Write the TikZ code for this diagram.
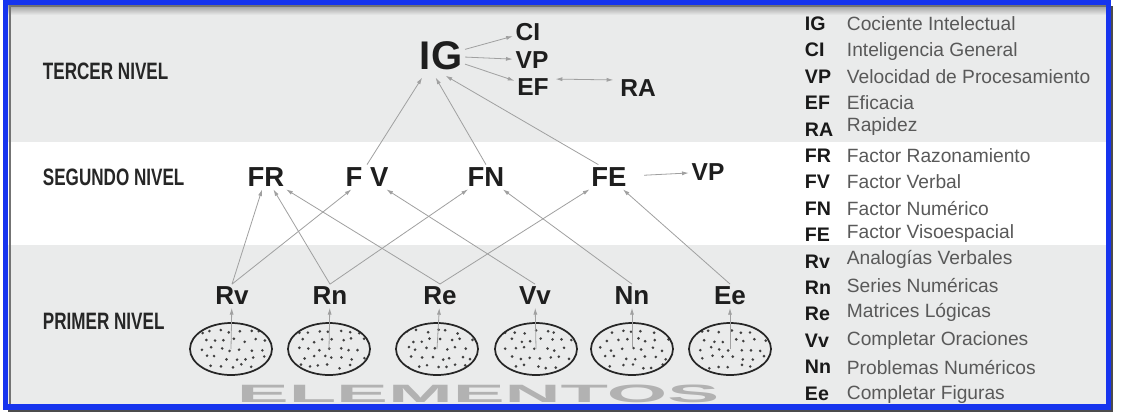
\documentclass[tikz,border=0pt]{standalone}
\usepackage{fontspec}
\setmainfont{Liberation Sans}
\newfontfamily\levelfont[FakeStretch=0.72]{Liberation Sans}
\newfontfamily\widefont[FakeStretch=3.1]{Liberation Sans}
\usetikzlibrary{calc}
\usetikzlibrary{arrows.meta,shapes.geometric}

\definecolor{bandgray}{RGB}{234,235,235}
\definecolor{frameblue}{RGB}{22,52,238}
\definecolor{labelink}{RGB}{30,30,30}
\definecolor{edgegray}{RGB}{160,160,160}

\begin{document}
\begin{tikzpicture}[x=0.75pt,y=-0.75pt,
   every node/.style={inner sep=2pt},
   lvl/.style={anchor=west,font=\levelfont\bfseries\fontsize{17.8}{19}\selectfont,text=black!85},
   big/.style={font=\bfseries\fontsize{30}{32}\selectfont,text=labelink},
   sub/.style={font=\bfseries\fontsize{18.4}{20}\selectfont,text=labelink},
   fac/.style={font=\bfseries\fontsize{20.6}{22}\selectfont,text=labelink},
   elem/.style={font=\bfseries\fontsize{19.5}{21}\selectfont,text=labelink},
   abbr/.style={anchor=base west,font=\bfseries\fontsize{14.7}{16}\selectfont,text=black!90},
   desc/.style={anchor=base west,font=\fontsize{14.4}{16}\selectfont,text=black!65},
   arr/.style={draw=edgegray,line width=0.6pt,>={Latex[length=5pt,width=3pt]},->},
   pool/.style={ellipse,draw=black!85,line width=1.3pt,minimum width=61.5pt,minimum height=39pt,
     path picture={\foreach \i in {-3,...,3} \foreach \j in {-2,...,2}
       \fill[black!75] ($(path picture bounding box.center)+({\i*7.5pt+isodd(\j)*3.2pt+rand*1.8pt},{\j*6.5pt+rand*1.5pt})$) circle (1.1pt);}}]
\useasboundingbox (0,0) rectangle (1122,419);
\pgfmathsetseed{7}
% bands
\fill[white] (0,0) rectangle (1122,419);
\fill[bandgray] (8,5) rectangle (1108,142);
\fill[bandgray] (8,245) rectangle (1108,405);
\shade[top color=black!40,bottom color=bandgray] (8,5) rectangle (1108,15);
\draw[black!55,line width=1.5pt] (9.5,405) -- (9.5,6) -- (1107,6);
\node[font=\widefont\bfseries\fontsize{18.8}{20}\selectfont,text=black!30] (word) at (478,394) {ELEMENTOS};
% levels
\node[lvl] (tercer) at (40,71) {TERCER NIVEL};
\node[lvl] (segundo) at (40,177) {SEGUNDO NIVEL};
\node[lvl] (primer) at (40,321) {PRIMER NIVEL};
% third level
\node[big] (IG) at (441,56) {IG};
\node[sub] (CI) at (528,32) {CI};
\node[sub] (VP) at (532,60) {VP};
\node[sub] (EF) at (533,87) {EF};
\node[sub] (RA) at (638,88) {RA};
% second level
\node[fac] (FR) at (266,177) {FR};
\node[fac] (FV) at (367,177) {F V};
\node[fac] (FN) at (486,177) {FN};
\node[fac] (FE) at (609,177) {FE};
\node[sub] (VPb) at (708,172) {VP};
% first level
\node[elem] (Rv) at (232,296) {Rv};
\node[elem] (Rn) at (330,296) {Rn};
\node[elem] (Re) at (440,296) {Re};
\node[elem] (Vv) at (535,296) {Vv};
\node[elem] (Nn) at (632,296) {Nn};
\node[elem] (Ee) at (730,296) {Ee};
\node[pool] (eRv) at (231,349) {};
\node[pool] (eRn) at (329,349) {};
\node[pool] (eRe) at (437,349) {};
\node[pool] (eVv) at (536,349) {};
\node[pool] (eNn) at (632,349) {};
\node[pool] (eEe) at (730,349) {};
% connectors
\draw[arr] (IG) -- (CI);
\draw[arr] (IG) -- (VP);
\draw[arr] (IG) -- (EF);
\draw[arr,<->,shorten <=3pt,shorten >=3pt] ([yshift=6pt]EF.east) -- ([yshift=6pt]RA.west);
\draw[arr,shorten >=4pt] (FV.north) -- ([xshift=-12pt]IG.south);
\draw[arr,shorten >=4pt] (FN.north) -- ([xshift=-6pt]IG.south);
\draw[arr,shorten >=4pt] ([xshift=-8pt]FE.north) -- (IG.south);
\draw[arr,shorten <=11pt] (FE) -- (VPb);
\draw[arr] (Rv.north) -- (FR);
\draw[arr] (Rv.north) -- (FV);
\draw[arr] (Rn.north) -- (FR);
\draw[arr] (Rn.north) -- (FN);
\draw[arr] (Re.north) -- (FR);
\draw[arr] (Re.north) -- (FE);
\draw[arr] (Vv.north) -- (FV);
\draw[arr] (Nn.north) -- (FN);
\draw[arr] (Ee.north) -- (FE);
\draw[arr] (eRv.center) -- (Rv);
\draw[arr] (eRn.center) -- (Rn);
\draw[arr] (eRe.center) -- (Re);
\draw[arr] (eVv.center) -- (Vv);
\draw[arr] (eNn.center) -- (Nn);
\draw[arr] (eEe.center) -- (Ee);
% legend
\node[abbr] (kIG) at (802,30) {IG};  \node[desc] (dIG) at (844,30) {Cociente Intelectual};
\node[abbr] (kCI) at (802,56) {CI};  \node[desc] (dCI) at (844,56) {Inteligencia General};
\node[abbr] (kVP) at (802,83) {VP};  \node[desc] (dVP) at (844,83) {Velocidad de Procesamiento};
\node[abbr] (kEF) at (802,109) {EF}; \node[desc] (dEF) at (844,109) {Eficacia};
\node[abbr] (kRA) at (802,136) {RA}; \node[desc] (dRA) at (844,131) {Rapidez};
\node[abbr] (kFR) at (802,162) {FR}; \node[desc] (dFR) at (844,162) {Factor Razonamiento};
\node[abbr] (kFV) at (802,188) {FV}; \node[desc] (dFV) at (844,188) {Factor Verbal};
\node[abbr] (kFN) at (802,215) {FN}; \node[desc] (dFN) at (844,215) {Factor Numérico};
\node[abbr] (kFE) at (802,241) {FE}; \node[desc] (dFE) at (844,238) {Factor Visoespacial};
\node[abbr] (kRv) at (802,268) {Rv}; \node[desc] (dRv) at (844,264) {Analogías Verbales};
\node[abbr] (kRn) at (802,294) {Rn}; \node[desc] (dRn) at (844,292) {Series Numéricas};
\node[abbr] (kRe) at (802,320) {Re}; \node[desc] (dRe) at (844,317) {Matrices Lógicas};
\node[abbr] (kVv) at (802,347) {Vv}; \node[desc] (dVv) at (844,345) {Completar Oraciones};
\node[abbr] (kNn) at (802,373) {Nn}; \node[desc] (dNn) at (844,374) {Problemas Numéricos};
\node[abbr] (kEe) at (802,400) {Ee}; \node[desc] (dEe) at (844,399) {Completar Figuras};
% frame
\draw[frameblue,line width=4pt] (5.5,2.5) rectangle (1108.5,407);
\draw[black!70,line width=1pt] (8,411) -- (1112,411) -- (1112,6);
\end{tikzpicture}
\end{document}
